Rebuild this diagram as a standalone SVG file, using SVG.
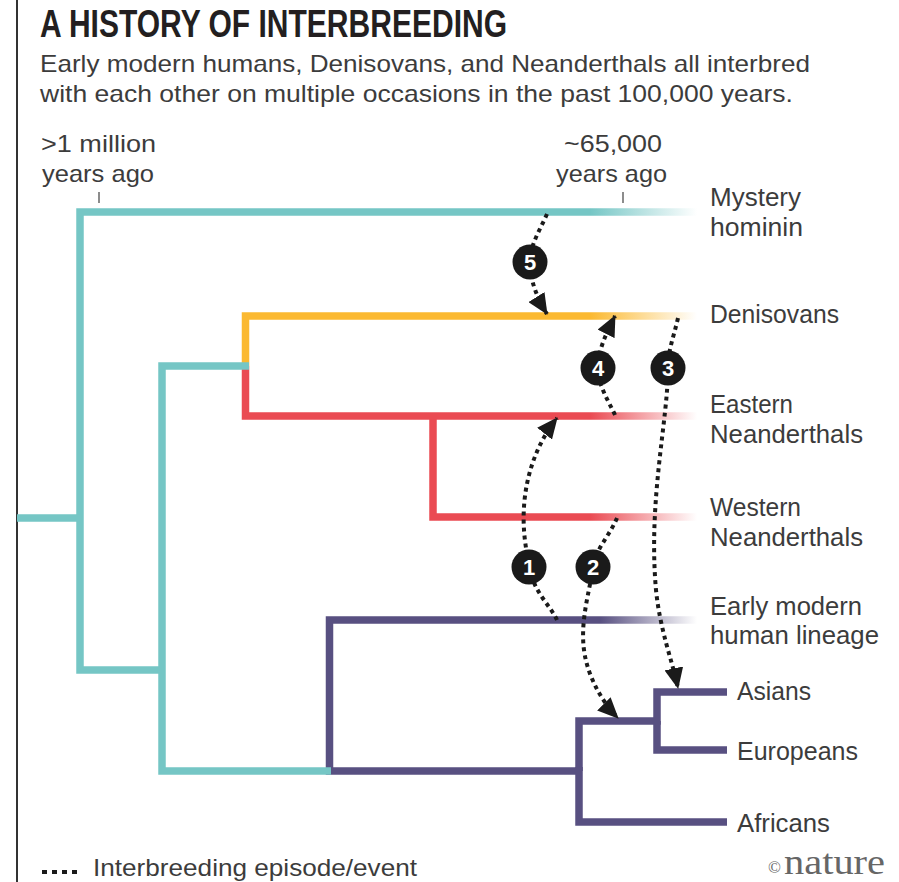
<svg xmlns="http://www.w3.org/2000/svg" width="899" height="882" viewBox="0 0 899 882">
<style>
.t{font-family:"Liberation Sans",Arial,sans-serif;fill:#3c3c3c}
.lbl{font-size:25px}
.time{font-size:24px}
.br{fill:none;stroke-width:7.5;stroke-linejoin:miter;stroke-linecap:butt}
.teal{stroke:#75c6c5}
.pur{stroke:#585081}
.dot{fill:none;stroke:#1a1a1a;stroke-width:4;stroke-dasharray:4 4}
.num{font-family:"Liberation Sans",Arial,sans-serif;font-size:22px;font-weight:bold;fill:#fff;text-anchor:middle}
.ev{fill:#1a1a1a}
.tick{stroke:#666;stroke-width:1.5}
</style>
<defs>
<linearGradient id="gTeal" gradientUnits="userSpaceOnUse" x1="590" y1="0" x2="697" y2="0"><stop offset="0" stop-color="#75c6c5"/><stop offset="1" stop-color="#75c6c5" stop-opacity="0"/></linearGradient>
<linearGradient id="gYel" gradientUnits="userSpaceOnUse" x1="590" y1="0" x2="697" y2="0"><stop offset="0" stop-color="#fbb931"/><stop offset="1" stop-color="#fbb931" stop-opacity="0"/></linearGradient>
<linearGradient id="gRed" gradientUnits="userSpaceOnUse" x1="590" y1="0" x2="697" y2="0"><stop offset="0" stop-color="#ea4b53"/><stop offset="1" stop-color="#ea4b53" stop-opacity="0"/></linearGradient>
<linearGradient id="gPur" gradientUnits="userSpaceOnUse" x1="600" y1="0" x2="697" y2="0"><stop offset="0" stop-color="#585081"/><stop offset="1" stop-color="#585081" stop-opacity="0"/></linearGradient>
<marker id="ah" markerUnits="userSpaceOnUse" markerWidth="21" markerHeight="19" refX="20" refY="9.5" orient="auto" viewBox="0 0 21 19"><path d="M0,0 L21,9.5 L0,19 Z" fill="#1a1a1a"/></marker>
</defs>
<rect width="899" height="882" fill="#fff"/>
<line x1="17" y1="0" x2="17" y2="882" stroke="#333" stroke-width="2"/>

<g id="title">
<text x="40" y="37" font-family="'Liberation Sans',Arial,sans-serif" font-weight="bold" font-size="39" fill="#231f20" textLength="467" lengthAdjust="spacingAndGlyphs">A HISTORY OF INTERBREEDING</text>
<text class="t" x="40" y="72" font-size="24" textLength="770" lengthAdjust="spacingAndGlyphs">Early modern humans, Denisovans, and Neanderthals all interbred</text>
<text class="t" x="40" y="102" font-size="24" textLength="753" lengthAdjust="spacingAndGlyphs">with each other on multiple occasions in the past 100,000 years.</text>
</g>

<g id="axis">
<text class="t time" x="41" y="152" textLength="115" lengthAdjust="spacingAndGlyphs">&gt;1 million</text>
<text class="t time" x="42" y="182" textLength="112" lengthAdjust="spacingAndGlyphs">years ago</text>
<line class="tick" x1="99" y1="192" x2="99" y2="203"/>
<text class="t time" x="564" y="152" textLength="98" lengthAdjust="spacingAndGlyphs">~65,000</text>
<text class="t time" x="556" y="182" textLength="111" lengthAdjust="spacingAndGlyphs">years ago</text>
<line class="tick" x1="623" y1="192" x2="623" y2="203"/>
</g>

<g id="tree">
<g id="denisovans">
<path class="br" stroke="url(#gYel)" d="M245.5,366 V316 H697"/>
<text class="t lbl" x="710" y="323" textLength="129" lengthAdjust="spacingAndGlyphs">Denisovans</text>
</g>
<g id="eastern-neanderthals">
<path class="br" stroke="url(#gRed)" d="M245.5,366 V416 H697"/>
<text class="t lbl" x="710" y="413" textLength="83" lengthAdjust="spacingAndGlyphs">Eastern</text>
<text class="t lbl" x="710" y="443" textLength="153" lengthAdjust="spacingAndGlyphs">Neanderthals</text>
</g>
<g id="western-neanderthals">
<path class="br" stroke="url(#gRed)" d="M433,416 V517 H697"/>
<text class="t lbl" x="710" y="516" textLength="91" lengthAdjust="spacingAndGlyphs">Western</text>
<text class="t lbl" x="710" y="546" textLength="153" lengthAdjust="spacingAndGlyphs">Neanderthals</text>
</g>
<g id="early-modern-human-lineage">
<path class="br" stroke="url(#gPur)" d="M697,620 H329.5 V771 H579"/>
<text class="t lbl" x="710" y="615" textLength="152" lengthAdjust="spacingAndGlyphs">Early modern</text>
<text class="t lbl" x="710" y="644" textLength="169" lengthAdjust="spacingAndGlyphs">human lineage</text>
</g>
<g id="mystery-hominin">
<path class="br" stroke="url(#gTeal)" d="M697,212 H80 V670 H162"/>
<line class="br teal" x1="17" y1="518" x2="80" y2="518"/>
<text class="t lbl" x="710" y="206" textLength="91" lengthAdjust="spacingAndGlyphs">Mystery</text>
<text class="t lbl" x="710" y="236" textLength="93" lengthAdjust="spacingAndGlyphs">hominin</text>
</g>
<g id="ancestral-lineage">
<path class="br teal" d="M249,366 H162 V771 H331"/>
</g>
<g id="asians">
<path class="br pur" d="M579,771 V721 H657 V692 H727"/>
<text class="t lbl" x="737" y="700" textLength="74" lengthAdjust="spacingAndGlyphs">Asians</text>
</g>
<g id="europeans">
<path class="br pur" d="M657,721 V750 H727"/>
<text class="t lbl" x="737" y="760" textLength="121" lengthAdjust="spacingAndGlyphs">Europeans</text>
</g>
<g id="africans">
<path class="br pur" d="M579,767 V822 H727"/>
<text class="t lbl" x="737" y="832" textLength="93" lengthAdjust="spacingAndGlyphs">Africans</text>
</g>
</g>

<g id="connectors">
<path class="dot" marker-end="url(#ah)" d="M547,214 C540,230 530,245 530,262 C530,280 537,298 547,314"/>
<path class="dot" marker-end="url(#ah)" d="M615,415 C608,400 598,385 598,368 C598,350 606,334 615,316"/>
<path class="dot" marker-end="url(#ah)" d="M678,318 C674,336 668,350 668,368 C668,420 648,500 656,590 C660,630 672,660 678,688"/>
<path class="dot" marker-end="url(#ah)" d="M557,620 C550,605 532,590 530,567 C514,505 530,452 557,418"/>
<path class="dot" marker-end="url(#ah)" d="M617,518 C610,535 595,550 593,567 C590,590 580,620 584,650 C588,680 605,705 618,718"/>
</g>

<g id="event-5"><circle class="ev" cx="530" cy="262" r="17.5"/><text class="num" x="530" y="270">5</text></g>
<g id="event-4"><circle class="ev" cx="598" cy="368" r="17.5"/><text class="num" x="598" y="376">4</text></g>
<g id="event-3"><circle class="ev" cx="668" cy="368" r="17.5"/><text class="num" x="668" y="376">3</text></g>
<g id="event-1"><circle class="ev" cx="529" cy="567" r="17.5"/><text class="num" x="529" y="575">1</text></g>
<g id="event-2"><circle class="ev" cx="593" cy="567" r="17.5"/><text class="num" x="593" y="575">2</text></g>

<g id="legend">
<line x1="42" y1="872" x2="82" y2="872" stroke="#1a1a1a" stroke-width="4" stroke-dasharray="5 5"/>
<text class="t" x="93" y="876" font-size="24" textLength="324" lengthAdjust="spacingAndGlyphs">Interbreeding episode/event</text>
</g>
<g id="credit">
<text x="768" y="873" font-family="'Liberation Serif','Times New Roman',serif" font-size="17" fill="#666">©</text>
<text x="784" y="874" font-family="'Liberation Serif','Times New Roman',serif" font-size="36" fill="#666" textLength="101" lengthAdjust="spacingAndGlyphs">nature</text>
</g>
</svg>
